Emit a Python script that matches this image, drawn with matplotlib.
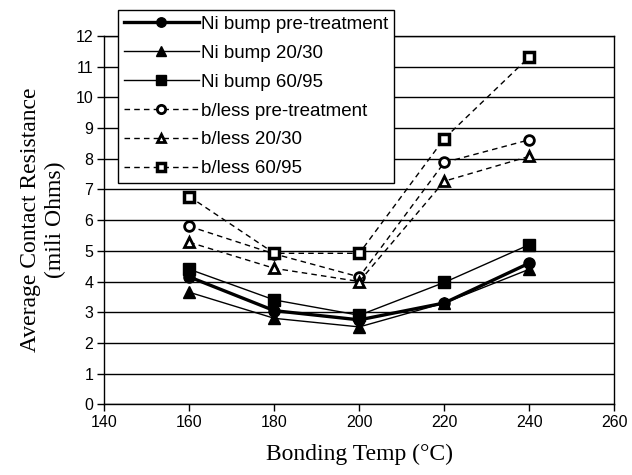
import matplotlib
matplotlib.use("Agg")
import matplotlib.pyplot as plt

# Данные с графика
temps = [160, 180, 200, 220, 240]
ni_pre = [4.15, 3.05, 2.75, 3.3, 4.6]
ni_2030 = [3.65, 2.8, 2.52, 3.3, 4.4]
ni_6095 = [4.4, 3.4, 2.9, 3.97, 5.2]
bl_pre = [5.8, 4.9, 4.15, 7.88, 8.62]
bl_2030 = [5.28, 4.43, 4.0, 7.27, 8.08]
bl_6095 = [6.77, 4.92, 4.92, 8.66, 11.32]

xticks = [140, 160, 180, 200, 220, 240, 260]
yticks = list(range(0, 13))

fig = plt.figure(figsize=(6.32, 4.75), dpi=100)
ax = fig.add_axes([0.165, 0.149, 0.807, 0.775])

dash = (0, (4, 3))
ax.plot(temps, ni_pre, color='black', lw=2.4, marker='o', ms=8, label='Ni bump pre-treatment', zorder=5)
ax.plot(temps, ni_2030, color='black', lw=1, marker='^', ms=8, label='Ni bump 20/30', zorder=4)
ax.plot(temps, ni_6095, color='black', lw=1, marker='s', ms=8, label='Ni bump 60/95', zorder=4)
ax.plot(temps, bl_pre, color='black', lw=1, ls=dash, marker='o', ms=7, mfc='white', mew=2,
        label='b/less pre-treatment', zorder=4)
ax.plot(temps, bl_2030, color='black', lw=1, ls=dash, marker='^', ms=7, mfc='white', mew=2,
        label='b/less 20/30', zorder=4)
ax.plot(temps, bl_6095, color='black', lw=1, ls=dash, marker='s', ms=7, mfc='white', mew=2.5,
        label='b/less 60/95', zorder=4)

ax.set_xlim(140, 260)
ax.set_ylim(0, 12)
ax.set_xticks(xticks)
ax.set_yticks(yticks)
ax.yaxis.grid(True, color='black', lw=1)
ax.set_axisbelow(True)
for s in ax.spines.values():
    s.set_color('black')
    s.set_linewidth(1)
ax.tick_params(axis='both', direction='out', length=5, width=1, colors='black',
               labelsize=11.5, pad=3)
for lab in ax.get_xticklabels() + ax.get_yticklabels():
    lab.set_family('Liberation Sans')

ax.set_xlabel('Bonding Temp (°C)', family='Liberation Serif', fontsize=17, labelpad=10)
ax.set_ylabel('Average Contact Resistance\n(mili Ohms)', family='Liberation Serif',
              fontsize=17, labelpad=7, linespacing=1.25)

leg = ax.legend(loc='upper left', bbox_to_anchor=(0.187, 0.979), bbox_transform=fig.transFigure,
                borderaxespad=0, prop={'family': 'Liberation Sans', 'size': 13.5},
                handlelength=4.0, handletextpad=0.1, labelspacing=0.63, markerscale=0.85,
                fancybox=False, framealpha=1, edgecolor='black', borderpad=0.3)
leg.get_frame().set_linewidth(1)

fig.savefig('out.png', dpi=100)
